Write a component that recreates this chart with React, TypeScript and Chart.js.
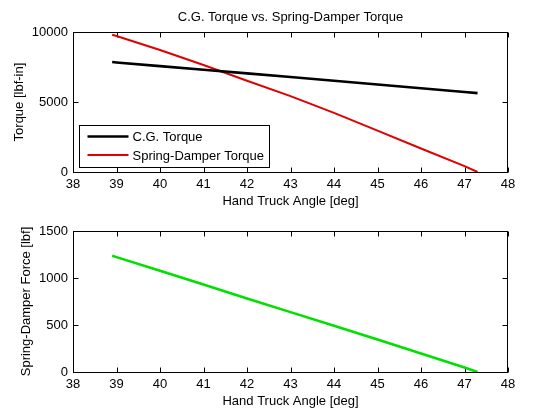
import React, { useEffect, useRef } from 'react';
import { Chart, registerables } from 'chart.js';

Chart.register(...registerables);

// values
const angles = [38.9, 39, 40, 41, 42, 43, 44, 45, 46, 47, 47.3];
const cgTorque = [7860, 7830, 7570, 7310, 7050, 6790, 6520, 6260, 5990, 5720, 5640];
const springTorque = [9810, 9720, 8720, 7650, 6520, 5420, 4230, 2960, 1680, 420, 0];
const springForce = [1237, 1222, 1078, 930, 783, 637, 492, 345, 198, 48, 0];

const xTicks = [38, 39, 40, 41, 42, 43, 44, 45, 46, 47, 48];
const torqueTicks = [0, 5000, 10000];
const forceTicks = [0, 500, 1000, 1500];

const FONT = 'Liberation Sans, Arial, Helvetica, sans-serif';

const toPoints = (ys: number[]) => angles.map((x, i) => ({ x, y: ys[i] }));

// MATLAB style box with inward ticks on all four sides
const boxPlugin = {
  id: 'matlabBox',
  beforeDatasetsDraw(chart: any) {
    const { ctx, chartArea: ca, scales } = chart;
    const l = Math.floor(ca.left) + 0.5;
    const r = Math.floor(ca.right) - 0.5;
    const t = Math.floor(ca.top) + 0.5;
    const b = Math.floor(ca.bottom) + 0.5;
    ctx.save();
    ctx.strokeStyle = '#000';
    ctx.lineWidth = 1;
    ctx.strokeRect(l, t, r - l, b - t);
    ctx.beginPath();
    scales.x.ticks.forEach((tk: any) => {
      const px = Math.round(scales.x.getPixelForValue(tk.value)) + 0.5;
      ctx.moveTo(px, b);
      ctx.lineTo(px, b - 5);
      ctx.moveTo(px, t);
      ctx.lineTo(px, t + 5);
    });
    scales.y.ticks.forEach((tk: any) => {
      const py = Math.round(scales.y.getPixelForValue(tk.value)) + 0.5;
      ctx.moveTo(l, py);
      ctx.lineTo(l + 5, py);
      ctx.moveTo(r, py);
      ctx.lineTo(r - 5, py);
    });
    ctx.stroke();
    ctx.restore();
  },
};

// boxed legend in the lower left corner of the plot
const legendBoxPlugin = {
  id: 'legendBox',
  afterDraw(chart: any, _args: any, opts: any) {
    if (!opts || !opts.show) return;
    const { ctx, chartArea: ca } = chart;
    const sets = chart.data.datasets;
    ctx.save();
    ctx.font = `13px ${FONT}`;
    const textW = Math.max(...sets.map((d: any) => ctx.measureText(d.label).width));
    const left = Math.floor(ca.left) + 6.5;
    const top = Math.floor(ca.bottom) - 46.5;
    const w = Math.round(53 + textW + 5);
    const h = 42;
    ctx.fillStyle = '#fff';
    ctx.fillRect(left, top, w, h);
    ctx.strokeStyle = '#000';
    ctx.lineWidth = 1;
    ctx.strokeRect(left, top, w, h);
    sets.forEach((d: any, i: number) => {
      const y = top + 11 + i * 18.5;
      ctx.strokeStyle = d.borderColor;
      ctx.lineWidth = d.borderWidth;
      ctx.beginPath();
      ctx.moveTo(left + 8, y);
      ctx.lineTo(left + 49, y);
      ctx.stroke();
      ctx.fillStyle = '#000';
      ctx.textBaseline = 'middle';
      ctx.textAlign = 'left';
      ctx.fillText(d.label, left + 53, y + 1);
    });
    ctx.restore();
  },
};

function makeOptions(opts: {
  title?: string;
  yTitle: string;
  yMax: number;
  yTickList: number[];
  yTitlePad: number;
  padTop: number;
  padBottom: number;
  legend: boolean;
}): any {
  return {
    responsive: false,
    animation: false,
    layout: { padding: { top: opts.padTop, right: 52, bottom: opts.padBottom, left: 0 } },
    plugins: {
      legend: { display: false },
      tooltip: { enabled: false },
      title: {
        display: !!opts.title,
        text: opts.title,
        fullSize: false,
        color: '#000',
        font: { family: FONT, size: 13, weight: 'normal' },
        padding: { top: 10, bottom: 6.5 },
      },
      legendBox: { show: opts.legend },
    },
    scales: {
      x: {
        type: 'linear',
        min: 38,
        max: 48,
        afterBuildTicks: (axis: any) => {
          axis.ticks = xTicks.map((v) => ({ value: v }));
        },
        afterFit: (axis: any) => {
          axis.height = 38;
        },
        grid: { display: false, drawTicks: false },
        border: { display: false },
        ticks: { color: '#000', padding: 5, font: { family: FONT, size: 13 }, maxRotation: 0 },
        title: {
          display: true,
          text: 'Hand Truck Angle [deg]',
          color: '#000',
          font: { family: FONT, size: 13 },
          padding: { top: 0, bottom: 1 },
        },
      },
      y: {
        type: 'linear',
        min: 0,
        max: opts.yMax,
        afterBuildTicks: (axis: any) => {
          axis.ticks = opts.yTickList.map((v) => ({ value: v }));
        },
        afterFit: (axis: any) => {
          axis.width = 73;
        },
        grid: { display: false, drawTicks: false },
        border: { display: false },
        ticks: {
          color: '#000',
          padding: 5,
          font: { family: FONT, size: 13 },
          callback: (v: any) => String(v),
        },
        title: {
          display: true,
          text: opts.yTitle,
          color: '#000',
          font: { family: FONT, size: 13 },
          padding: { top: opts.yTitlePad, bottom: 0 },
        },
      },
    },
  };
}

const App: React.FC = () => {
  const topRef = useRef<HTMLCanvasElement>(null);
  const bottomRef = useRef<HTMLCanvasElement>(null);

  useEffect(() => {
    const charts: Chart[] = [];
    if (topRef.current) {
      charts.push(
        new Chart(topRef.current, {
          type: 'line',
          data: {
            datasets: [
              {
                label: 'C.G. Torque',
                data: toPoints(cgTorque),
                borderColor: '#000000',
                borderWidth: 2.6,
                pointRadius: 0,
                tension: 0,
              },
              {
                label: 'Spring-Damper Torque',
                data: toPoints(springTorque),
                borderColor: '#e00000',
                borderWidth: 2,
                pointRadius: 0,
                tension: 0,
              },
            ],
          },
          options: makeOptions({
            title: 'C.G. Torque vs. Spring-Damper Torque',
            yTitle: 'Torque [lbf-in]',
            yMax: 10000,
            yTickList: torqueTicks,
            yTitlePad: 12,
            padTop: 0,
            padBottom: 0,
            legend: true,
          }),
          plugins: [boxPlugin, legendBoxPlugin],
        } as any)
      );
    }
    if (bottomRef.current) {
      charts.push(
        new Chart(bottomRef.current, {
          type: 'line',
          data: {
            datasets: [
              {
                label: 'Spring-Damper Force',
                data: toPoints(springForce),
                borderColor: '#00e000',
                borderWidth: 2.6,
                pointRadius: 0,
                tension: 0,
              },
            ],
          },
          options: makeOptions({
            yTitle: 'Spring-Damper Force [lbf]',
            yMax: 1500,
            yTickList: forceTicks,
            yTitlePad: 19,
            padTop: 21,
            padBottom: 10,
            legend: false,
          }),
          plugins: [boxPlugin, legendBoxPlugin],
        } as any)
      );
    }
    return () => {
      charts.forEach((c) => c.destroy());
    };
  }, []);

  return (
    <div style={{ position: 'absolute', left: 0, top: 0, width: 560, height: 420, background: '#fff' }}>
      <canvas ref={topRef} width={560} height={210} style={{ display: 'block' }}></canvas>
      <canvas ref={bottomRef} width={560} height={210} style={{ display: 'block' }}></canvas>
    </div>
  );
};

export default App;
